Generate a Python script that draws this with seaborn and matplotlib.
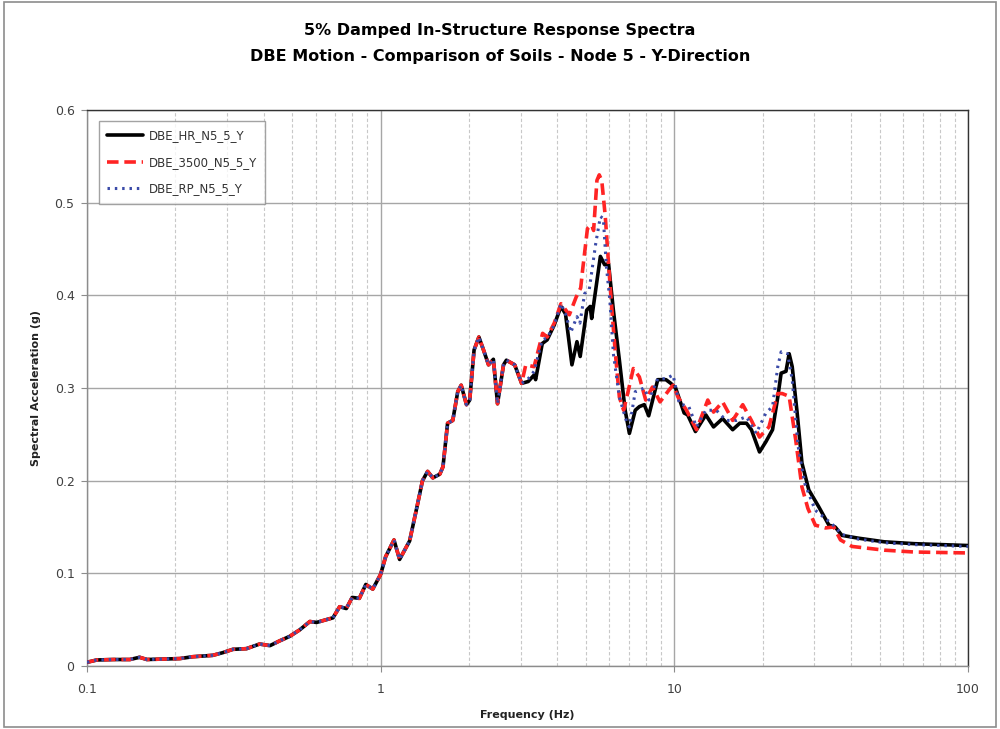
import numpy as np
import pandas as pd
import matplotlib
matplotlib.use("Agg")
import matplotlib.pyplot as plt
import seaborn as sns
from matplotlib.patches import Rectangle
from matplotlib.ticker import LogLocator, FixedLocator, FixedFormatter, NullFormatter

# ---------------- data ----------------
freq_common = [0.1, 0.108, 0.123, 0.14, 0.151, 0.16, 0.207, 0.229, 0.268, 0.29, 0.314, 0.349,
               0.387, 0.42, 0.452, 0.49, 0.53, 0.574, 0.605, 0.653, 0.688, 0.725, 0.764, 0.80,
               0.846, 0.89, 0.94, 1.0, 1.04, 1.11, 1.16, 1.255, 1.334, 1.388, 1.445, 1.505,
               1.59, 1.63, 1.69, 1.76, 1.83, 1.88, 1.96, 2.01, 2.08, 2.16, 2.24, 2.33, 2.42,
               2.5, 2.62, 2.68, 2.86, 3.02]
sa_common = [0.004, 0.0065, 0.007, 0.007, 0.0094, 0.007, 0.008, 0.010, 0.0115, 0.0144, 0.018,
             0.0187, 0.0237, 0.022, 0.027, 0.032, 0.039, 0.048, 0.047, 0.050, 0.052, 0.064,
             0.062, 0.074, 0.073, 0.088, 0.083, 0.099, 0.118, 0.136, 0.115, 0.135, 0.174, 0.20,
             0.21, 0.203, 0.207, 0.215, 0.262, 0.265, 0.296, 0.303, 0.282, 0.287, 0.341, 0.355,
             0.341, 0.325, 0.331, 0.283, 0.325, 0.330, 0.325, 0.305]

freq_hr = [3.18, 3.33, 3.37, 3.55, 3.69, 3.9, 4.11, 4.26, 4.48, 4.66, 4.78, 5.03, 5.17, 5.23,
           5.6, 5.79, 5.97, 6.2, 6.5, 6.8, 7.03, 7.36, 7.61, 7.9, 8.18, 8.78, 9.36, 9.73, 10.1,
           10.8, 11.1, 11.8, 12.8, 13.6, 14.6, 15.8, 16.7, 17.6, 18.3, 19.5, 20.5, 21.6, 22.5,
           23.1, 24.0, 24.6, 25.2, 26.2, 27.2, 28.7, 31.0, 33.6, 35.3, 37.2, 42.2, 51.9, 65.6, 100]
sa_hr = [0.307, 0.314, 0.309, 0.348, 0.352, 0.368, 0.388, 0.38, 0.325, 0.35, 0.334, 0.384,
         0.388, 0.375, 0.442, 0.433, 0.434, 0.384, 0.33, 0.276, 0.251, 0.276, 0.28, 0.282,
         0.27, 0.309, 0.309, 0.305, 0.30, 0.273, 0.271, 0.253, 0.271, 0.258, 0.267, 0.255,
         0.262, 0.262, 0.255, 0.231, 0.242, 0.255, 0.29, 0.316, 0.318, 0.337, 0.323, 0.273,
         0.219, 0.19, 0.172, 0.152, 0.150, 0.141, 0.138, 0.134, 0.132, 0.130]

freq_3500 = [3.12, 3.33, 3.56, 3.69, 3.9, 4.11, 4.39, 4.63, 4.8, 4.87, 5.06, 5.23, 5.31, 5.45,
             5.55, 5.66, 5.82, 5.97, 6.13, 6.3, 6.5, 6.72, 6.98, 7.25, 7.6, 7.99, 8.42, 8.94,
             9.6, 9.9, 10.3, 11.0, 11.9, 13.0, 13.6, 14.6, 15.8, 17.1, 18.3, 19.5, 21.0, 22.5,
             23.3, 24.6, 25.9, 27.2, 28.5, 30.2, 32.7, 34.9, 36.8, 40.3, 51.9, 65.6, 100]
sa_3500 = [0.325, 0.323, 0.359, 0.355, 0.37, 0.391, 0.379, 0.398, 0.408, 0.427, 0.472, 0.476,
           0.470, 0.524, 0.53, 0.524, 0.485, 0.434, 0.384, 0.337, 0.29, 0.276, 0.298, 0.321,
           0.312, 0.287, 0.301, 0.285, 0.298, 0.303, 0.29, 0.276, 0.255, 0.287, 0.274, 0.285,
           0.265, 0.282, 0.265, 0.247, 0.258, 0.294, 0.294, 0.291, 0.244, 0.193, 0.17, 0.152,
           0.149, 0.150, 0.136, 0.129, 0.125, 0.123, 0.122]

freq_rp = [3.18, 3.33, 3.55, 3.69, 3.9, 4.11, 4.26, 4.44, 4.66, 4.77, 4.95, 5.13, 5.4, 5.6,
           5.73, 5.87, 6.03, 6.2, 6.5, 6.9, 7.03, 7.36, 7.9, 8.2, 8.78, 9.36, 9.9, 10.4, 11.2,
           11.9, 12.8, 13.9, 15.0, 16.3, 17.6, 19.0, 20.5, 21.6, 22.5, 23.1, 24.3, 25.2, 26.4,
           27.8, 30.2, 33.6, 35.3, 37.2, 42.2, 51.9, 65.6, 100]
sa_rp = [0.31, 0.318, 0.352, 0.354, 0.368, 0.391, 0.38, 0.36, 0.377, 0.37, 0.402, 0.406,
         0.456, 0.485, 0.483, 0.431, 0.395, 0.337, 0.29, 0.262, 0.258, 0.296, 0.30, 0.287,
         0.31, 0.31, 0.314, 0.283, 0.28, 0.258, 0.276, 0.276, 0.265, 0.265, 0.269, 0.251,
         0.273, 0.28, 0.323, 0.339, 0.337, 0.309, 0.237, 0.197, 0.168, 0.156, 0.150, 0.142,
         0.137, 0.133, 0.131, 0.129]

series_names = ["DBE_HR_N5_5_Y", "DBE_3500_N5_5_Y", "DBE_RP_N5_5_Y"]
x_ticks = [0.1, 1, 10, 100]
x_tick_labels = ["0.1", "1", "10", "100"]
y_ticks = [0, 0.1, 0.2, 0.3, 0.4, 0.5, 0.6]
y_tick_labels = ["0", "0.1", "0.2", "0.3", "0.4", "0.5", "0.6"]

# ---------------- plot ----------------
sns.set_theme(style="white")
plt.rcParams['font.family'] = ['DejaVu Sans']

fig = plt.figure(figsize=(10, 7.29), dpi=100)
ax = fig.add_axes([0.087, 1 - 666 / 729, 0.968 - 0.087, (666 - 110) / 729])

data = {
    series_names[0]: (freq_common + freq_hr, sa_common + sa_hr),
    series_names[1]: (freq_common + freq_3500, sa_common + sa_3500),
    series_names[2]: (freq_common + freq_rp, sa_common + sa_rp),
}
styles = {
    series_names[0]: dict(color="black", lw=2.6, ls="-"),
    series_names[1]: dict(color="#ff2424", lw=2.6, ls=(0, (3.2, 1.6))),
    series_names[2]: dict(color="#3a4aa8", lw=2.2, ls=(0, (0.8, 1.6))),
}
for name in series_names:
    f, s = data[name]
    df = pd.DataFrame({"f": f, "sa": s})
    st = styles[name]
    sns.lineplot(data=df, x="f", y="sa", ax=ax, sort=False, estimator=None,
                 color=st["color"], linewidth=st["lw"], linestyle=st["ls"], label=name,
                 zorder=3)

ax.set_xscale("log")
ax.set_xlim(0.1, 100)
ax.set_ylim(0, 0.6)

ax.xaxis.set_major_locator(FixedLocator(x_ticks))
ax.xaxis.set_major_formatter(FixedFormatter(x_tick_labels))
ax.xaxis.set_minor_locator(LogLocator(base=10, subs=np.arange(2, 10)))
ax.xaxis.set_minor_formatter(NullFormatter())
ax.yaxis.set_major_locator(FixedLocator(y_ticks))
ax.yaxis.set_major_formatter(FixedFormatter(y_tick_labels))

ax.grid(which="major", axis="both", color="#a6a6a6", linestyle="-", linewidth=1.0, zorder=0)
ax.grid(which="minor", axis="x", color="#c8c8c8", linestyle=(0, (3, 2)), linewidth=0.8, zorder=0)
ax.set_axisbelow(True)

for side in ["left", "bottom"]:
    ax.spines[side].set_color("#8c8c8c")
    ax.spines[side].set_linewidth(1.0)
for side in ["top", "right"]:
    ax.spines[side].set_color("#333333")
    ax.spines[side].set_linewidth(1.0)

ax.tick_params(axis="both", which="major", direction="out", length=4, width=0.8,
               color="#8c8c8c", labelsize=9, labelcolor="#404040", pad=5,
               left=True, bottom=True)
ax.tick_params(axis="x", which="minor", bottom=False)
ax.tick_params(axis="x", which="major", pad=8)

ax.set_xlabel("Frequency (Hz)", fontsize=8, fontweight="bold", labelpad=10, color="#222222")
ax.set_ylabel("Spectral Acceleration (g)", fontsize=8, fontweight="bold", labelpad=10,
              color="#222222")

leg = ax.legend(loc="upper left", bbox_to_anchor=((99 - 87) / 881, (666 - 121) / 556),
                borderaxespad=0, frameon=True, fontsize=8.5, handlelength=3.0,
                labelspacing=1.15, borderpad=0.7, handletextpad=0.5, fancybox=False)
leg.get_frame().set_edgecolor("#8c8c8c")
leg.get_frame().set_linewidth(1.0)
for txt in leg.get_texts():
    txt.set_color("#333333")

fig.text(0.5, 1 - 30 / 729, "5% Damped In-Structure Response Spectra", ha="center",
         va="center", fontsize=11.5, fontweight="bold", color="black")
fig.text(0.5, 1 - 56 / 729, "DBE Motion - Comparison of Soils - Node 5 - Y-Direction",
         ha="center", va="center", fontsize=11.5, fontweight="bold", color="black")

fig.patches.append(Rectangle((0.004, 0.003), 0.992, 0.994, transform=fig.transFigure,
                             fill=False, edgecolor="#8c8c8c", linewidth=1.2))

fig.savefig("out.png", dpi=100)
